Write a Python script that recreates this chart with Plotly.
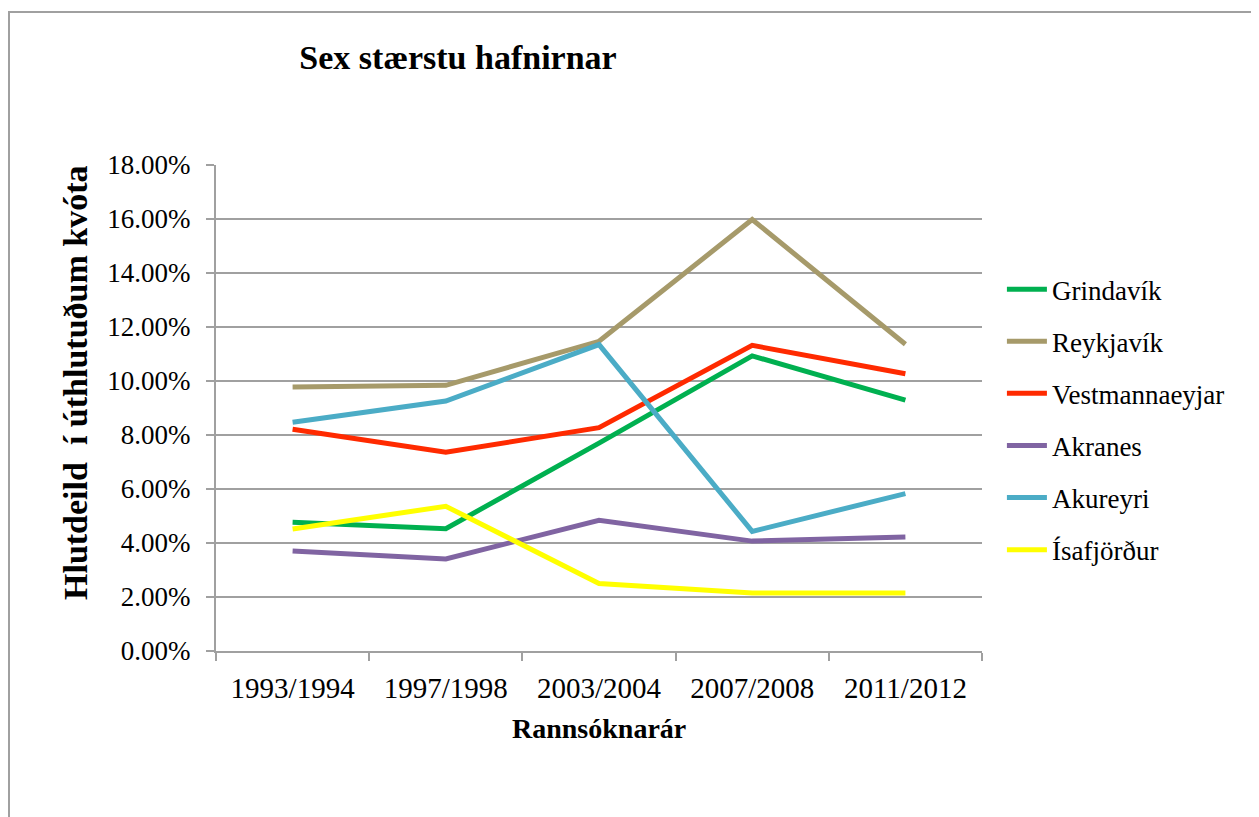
import plotly.graph_objects as go

# Rannsóknarár (x categories)
years = ["1993/1994", "1997/1998", "2003/2004", "2007/2008", "2011/2012"]

# share of allocated quota, as fractions
grindavik = [0.0477, 0.0453, 0.0770, 0.1093, 0.0929]
reykjavik = [0.0978, 0.0984, 0.1147, 0.1598, 0.1136]
vestmannaeyjar = [0.0821, 0.0736, 0.0827, 0.1132, 0.1027]
akranes = [0.0370, 0.0341, 0.0484, 0.0407, 0.0422]
akureyri = [0.0847, 0.0926, 0.1135, 0.0443, 0.0583]
isafjordur = [0.0452, 0.0536, 0.0250, 0.0215, 0.0215]

series = [
    ("Grindavík", grindavik, "#00B050"),
    ("Reykjavík", reykjavik, "#A69A6A"),
    ("Vestmannaeyjar", vestmannaeyjar, "#FF2A00"),
    ("Akranes", akranes, "#8064A2"),
    ("Akureyri", akureyri, "#4BACC6"),
    ("Ísafjörður", isafjordur, "#FFFF00"),
]

FONT = "Liberation Serif"
GRID = "#A0A0A0"
W, H = 1251, 809  # page has an 8px body margin

fig = go.Figure()
for i, (name, vals, col) in enumerate(series):
    fig.add_trace(go.Scatter(x=years, y=vals, mode="lines", name=name,
                             legendgroup=str(i),
                             line=dict(color=col, width=5)))

fig.update_layout(
    width=W, height=H,
    margin=dict(l=208, r=277, t=157, b=166),
    paper_bgcolor="white", plot_bgcolor="white",
    font=dict(family=FONT, size=27, color="black"),
    showlegend=True,
    legend=dict(x=1.026, xanchor="left", y=0.794, yanchor="top",
                font=dict(size=27), tracegroupgap=14,
                bgcolor="rgba(0,0,0,0)", itemwidth=40),
    title=dict(text="<b>Sex stærstu hafnirnar</b>", x=450 / W, xanchor="center",
               y=1 - 49 / H, yanchor="middle", font=dict(size=34, family=FONT)),
)

fig.update_xaxes(type="category", showgrid=False, showline=True, linecolor=GRID,
                 linewidth=2, ticks="outside", tickson="boundaries", ticklen=8,
                 tickcolor=GRID, tickwidth=2, tickfont=dict(size=29),
                 ticklabelstandoff=10, range=[-0.5, 4.5])
fig.update_yaxes(range=[0, 0.18], dtick=0.02, tickformat=".2%", showgrid=True,
                 gridcolor=GRID, gridwidth=2, showline=True, linecolor=GRID,
                 linewidth=2, ticks="outside", ticklen=8, tickcolor=GRID,
                 tickwidth=2, tickfont=dict(size=27), ticklabelstandoff=10,
                 zeroline=False)

fig.add_annotation(text="<b>Hlutdeild  í úthlutuðum kvóta</b>", textangle=-90,
                   xref="paper", yref="paper", x=(75 - 216) / 766,
                   y=(651 - 383) / 486, xanchor="center", yanchor="middle",
                   showarrow=False, font=dict(size=34, family=FONT))
fig.add_annotation(text="<b>Rannsóknarár</b>", xref="paper", yref="paper",
                   x=0.5, y=(651 - 728) / 486, xanchor="center",
                   yanchor="middle", showarrow=False,
                   font=dict(size=28, family=FONT))

# outer chart border
fig.add_shape(type="rect", xref="paper", yref="paper",
              x0=(9 - 216) / 766, x1=1.6, y0=-0.6, y1=(651 - 12) / 486,
              line=dict(color=GRID, width=2), layer="below")

fig.write_html("out.html")
